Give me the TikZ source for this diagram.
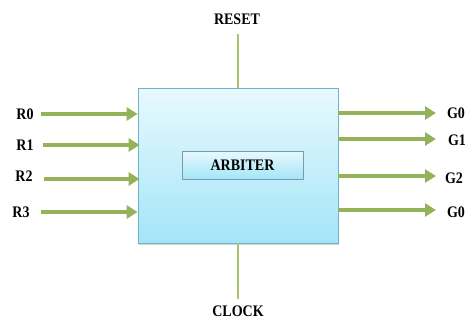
\documentclass[tikz,border=0pt]{standalone}
\usepackage{fontspec}
\usepackage{graphicx}
\setmainfont{Liberation Serif}
\usetikzlibrary{arrows.meta,shadows}
\definecolor{arrgreen}{HTML}{94B25A}
\definecolor{linegreen}{HTML}{A8C46E}
\definecolor{boxtop}{HTML}{E8F9FE}
\definecolor{boxbot}{HTML}{A4E5F7}
\definecolor{boxedge}{HTML}{6FB3C9}
\definecolor{inedge}{HTML}{7A9AAE}
\newcommand{\tallt}[1]{\scalebox{1}[1.15]{#1}}
\tikzset{
  lbl/.style={font=\bfseries\fontsize{14}{14}\selectfont, inner sep=0pt, text=black},
  sig/.style={draw=arrgreen, line width=3.8pt, -{Triangle[length=11pt,width=13pt]}},
  ctl/.style={draw=linegreen, line width=2.2pt},
  mainbox/.style={draw=boxedge, line width=0.8pt, top color=boxtop, bottom color=boxbot,
    minimum width=200pt, minimum height=155pt, inner sep=0pt,
    drop shadow={shadow xshift=1pt, shadow yshift=-1.5pt, opacity=0.35}},
  innerbox/.style={draw=inedge, line width=0.8pt, top color=boxtop, bottom color=boxbot,
    minimum width=121pt, minimum height=28pt, inner sep=0pt,
    drop shadow={shadow xshift=1pt, shadow yshift=-1pt, opacity=0.3}},
}
\begin{document}
\begin{tikzpicture}[x=1pt,y=-1pt]
\useasboundingbox (0,0) rectangle (467,322);
\node[mainbox] (arb) at (238,165.5) {};
\node[innerbox, lbl] (core) at (242.5,165) {\tallt{ARBITER}};
% labels
\node[lbl] (reset) at (237,19) {\tallt{RESET}};
\node[lbl] (clock) at (238,311) {\tallt{CLOCK}};
\node[lbl] (r0) at (25,114) {\tallt{R0}};
\node[lbl] (r1) at (25,145) {\tallt{R1}};
\node[lbl] (r2) at (24,176) {\tallt{R2}};
\node[lbl] (r3) at (21,212) {\tallt{R3}};
\node[lbl] (g0) at (456,113) {\tallt{G0}};
\node[lbl] (g1) at (457,140) {\tallt{G1}};
\node[lbl] (g2) at (454,178) {\tallt{G2}};
\node[lbl] (g3) at (456,212) {\tallt{G0}};
% arrow endpoints
\coordinate (rs0) at (41,114);
\coordinate (rs1) at (43,145);
\coordinate (rs2) at (44,179);
\coordinate (rs3) at (41,212);
\coordinate (ge0) at (436,113);
\coordinate (ge1) at (436,139);
\coordinate (ge2) at (436,176);
\coordinate (ge3) at (436,210);
\coordinate (rtop) at (238,34);
\coordinate (cbot) at (238,299);
% connectors
\draw[ctl] (rtop) -- (rtop |- arb.north);
\draw[ctl] (arb.south -| cbot) -- (cbot);
\draw[sig] (rs0) -- (rs0 -| arb.west);
\draw[sig] (rs1) -- ([xshift=2pt]rs1 -| arb.west);
\draw[sig] (rs2) -- ([xshift=2pt]rs2 -| arb.west);
\draw[sig] (rs3) -- (rs3 -| arb.west);
\draw[sig] (ge0 -| arb.east) -- (ge0);
\draw[sig] (ge1 -| arb.east) -- (ge1);
\draw[sig] (ge2 -| arb.east) -- (ge2);
\draw[sig] (ge3 -| arb.east) -- (ge3);
\end{tikzpicture}
\end{document}
